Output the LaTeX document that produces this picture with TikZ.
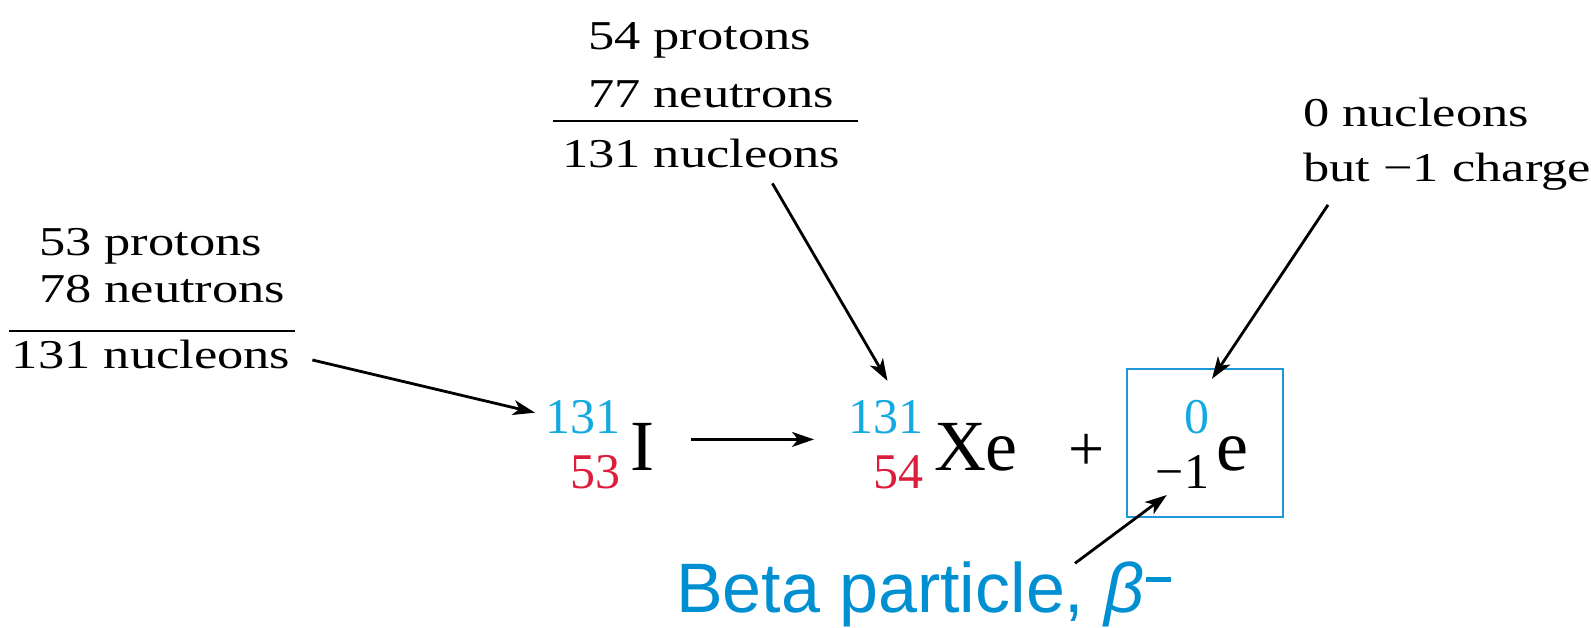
\documentclass[tikz,border=0pt]{standalone}
\usepackage{fontspec}
\setmainfont{Liberation Serif}
\newfontfamily\annotfont[FakeStretch=1.28]{Liberation Serif}
\newfontfamily\betafont{Liberation Sans}
\usetikzlibrary{arrows.meta,calc}
\definecolor{isoblue}{RGB}{20,170,225}
\definecolor{isored}{RGB}{220,30,60}
\definecolor{boxblue}{RGB}{30,150,215}
\definecolor{betablue}{RGB}{0,144,210}
\tikzset{
  ann/.style={inner sep=0pt,outer sep=0pt,anchor=base west,font=\annotfont\fontsize{41}{49}\selectfont},
  sym/.style={inner sep=0pt,outer sep=0pt,anchor=base west,font=\fontsize{72}{86}\selectfont},
  scr/.style={inner sep=0pt,outer sep=0pt,anchor=base east,font=\fontsize{50}{60}\selectfont},
  pointer/.style={line width=2.8pt,-{Stealth[length=22pt,width=15pt,inset=6pt]}},
  rxn/.style={line width=2.6pt,-{Stealth[length=22pt,width=15pt,inset=6pt]}},
  rulebar/.style={line width=2.8pt},
}
\begin{document}
\begin{tikzpicture}[x=1pt,y=-1pt]
\useasboundingbox (0,0) rectangle (1591,627);

% left annotation
\node[ann] (L1) at (39,255) {53 protons};
\node[ann] (L2) at (39,302) {78 neutrons};
\draw[rulebar] (9,331) -- (295,331);
\node[ann] (L3) at (12,368) {131 nucleons};

% top annotation
\node[ann] (T1) at (588,49) {54 protons};
\node[ann] (T2) at (588,107) {77 neutrons};
\draw[rulebar] (553,121) -- (858,121);
\node[ann] (T3) at (562,167) {131 nucleons};

% right annotation
\node[ann] (R1) at (1303,126) {0 nucleons};
\node[ann] (R2) at (1303,181) {but −1 charge};

% equation
\node[scr,text=isoblue] (A131) at (620,433) {131};
\node[scr,text=isored] (A53) at (620,488) {53};
\node[sym] (I) at (630,470) {I};
\node[scr,text=isoblue] (B131) at (923,433) {131};
\node[scr,text=isored] (B54) at (923,488) {54};
\node[sym] (Xe) at (934,470) {Xe};
\node[inner sep=0pt,outer sep=0pt,anchor=base,font=\fontsize{64}{76}\selectfont] (plus) at (1087,470) {+};
\node[draw=boxblue,line width=2.4pt,minimum width=156pt,minimum height=148pt,inner sep=0pt] (box) at (1205,443) {};
\node[scr,text=isoblue] (Z) at (1209,433) {0};
\node[scr] (M1) at (1209,488) {−1};
\node[sym] (E) at (1216,470) {e};

% beta label
\node[inner sep=0pt,outer sep=0pt,anchor=base west,text=betablue,font=\betafont\fontsize{70}{84}\selectfont] (beta) at (676,612)
  {Beta particle, \textit{β}\kern2pt\raisebox{30.5pt}{\rule{25pt}{5pt}}};

% connectors
\draw[rxn] ($(I.east)+(37,-7)$) -- ($(B131.west |- I.east)+(-34,-7)$);
\draw[pointer] ($(L3.east)+(22,6)$) -- ($(A131.west)+(-10,-4)$);
\draw[pointer] ($(T3.south east)+(-68,16)$) -- ($(B131.north)+(2,-19)$);
\draw[pointer] ($(R2.south west)+(25,15)$) -- ($(box.north)+(7,11)$);
\draw[pointer] ($(beta.north west)+(399,2)$) -- ($(M1.south west)+(11,7)$);
\end{tikzpicture}
\end{document}
